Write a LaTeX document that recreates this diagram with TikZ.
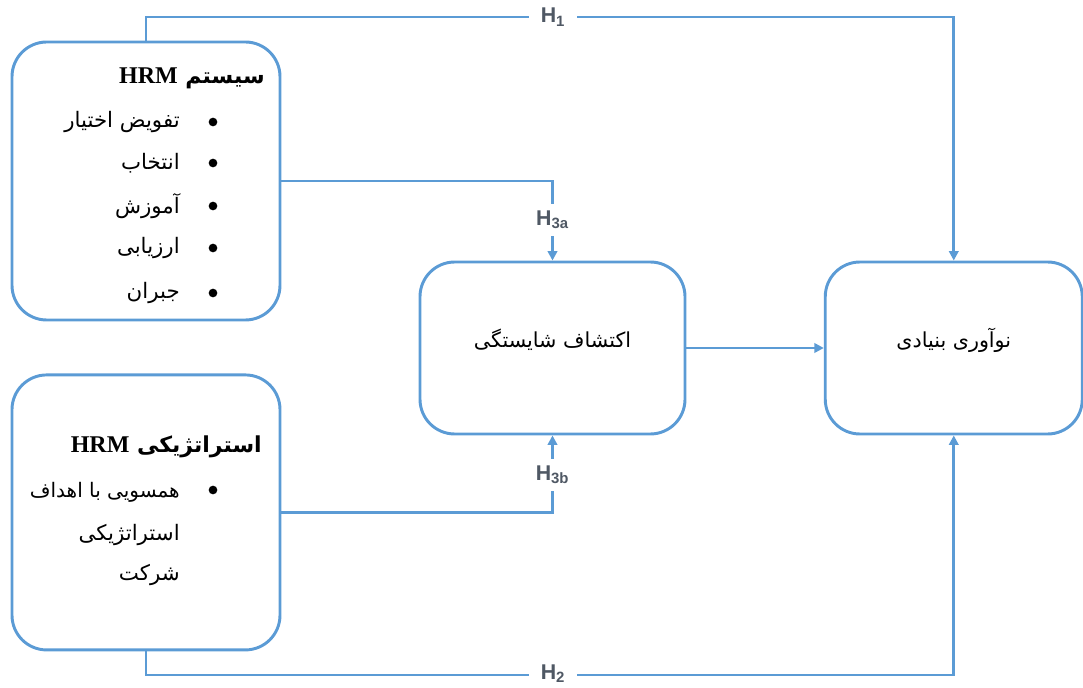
\documentclass[tikz,border=0pt]{standalone}
\usepackage{fontspec}
\setmainfont{Liberation Serif}
\newfontfamily\arabicfont[Script=Arabic]{DejaVu Sans}
\newfontfamily\hfont{Liberation Sans}
\TeXXeTstate=1
\usetikzlibrary{positioning,arrows.meta}
\definecolor{lineblue}{HTML}{5B9BD5}
\definecolor{labelgray}{HTML}{4F5864}
\newcommand{\fa}[1]{{\arabicfont\beginR #1\endR}}
\tikzstyle{box}=[rectangle,rounded corners=26pt,draw=lineblue,line width=2.2pt]
\tikzstyle{boxtext}=[inner sep=0pt,font=\fontsize{15.5}{18}\selectfont]
\tikzstyle{link}=[draw=lineblue,line width=2.2pt]
\tikzstyle{hyp}=[fill=white,text=labelgray,inner xsep=9pt,inner ysep=2pt,
font=\hfont\bfseries\fontsize{16}{18}\selectfont]
\tikzstyle{boxtitle}=[anchor=east,inner sep=0pt,font=\fontsize{16.5}{19}\selectfont\bfseries]
\tikzstyle{item}=[anchor=east,inner sep=0pt,font=\fontsize{16}{19}\selectfont]
\tikzstyle{bulletdot}=[circle,fill=black,inner sep=0pt,minimum size=6.5pt]

\begin{document}
\begin{tikzpicture}[x=0.75pt,y=-0.75pt,>={Triangle[length=7pt,width=7pt]}]
            \useasboundingbox (0,0) rectangle (1083,688);

            % BOXES

            \node[box,minimum width=201pt,minimum height=208.5pt] (hrm) at (146,181) {};
            \node[box,minimum width=201pt,minimum height=206.25pt,below=39pt of hrm] (shrm) {};
            \node[box,minimum width=198.75pt,minimum height=129pt] (comp) at (552.5,348) {};
            \node[box,minimum width=192.75pt,minimum height=129pt,right=103pt of comp] (innov) {};

            \node[boxtext,yshift=6pt] (compt) at (comp.center) {\fa{اکتشاف شایستگی}};
            \node[boxtext,yshift=6pt] (innovt) at (innov.center) {\fa{نوآوری بنیادی}};

            % HRM SYSTEM

            \node[boxtitle] (hrmt) at (265,78) {\fa{سیستم \beginL{\rmfamily\fontsize{18}{20}\selectfont HRM}\endL}};
            \foreach \txt/\y [count=\i] in {تفویض اختیار/122,انتخاب/163,آموزش/206,ارزیابی/248,جبران/293}{
                \node[bulletdot] (hb\i) at (213,\y) {};
                \node[item] (hi\i) at (180,\y) {\fa{\txt}};
            }

            % STRATEGIC HRM

            \node[boxtitle] (shrmt) at (262,447) {\fa{استراتژیکی \beginL{\rmfamily\fontsize{18}{20}\selectfont HRM}\endL}};
            \node[bulletdot] (sb1) at (213,490) {};
            \node[item,font=\fontsize{15}{18}\selectfont] (si1) at (180,492) {\fa{همسویی با اهداف}};
            \node[item] (si2) at (180,535) {\fa{استراتژیکی}};
            \node[item] (si3) at (180,575) {\fa{شرکت}};

            % HYPOTHESES

            \coordinate (h1) at (553,17);
            \coordinate (h2) at (553,675);
            \coordinate (h3a) at (552.5,220);
            \coordinate (h3b) at (552.5,475);

            \draw[link,->] (hrm.north) |- (h1) -| (innov.north);
            \draw[link,->] (shrm.south) |- (h2) -| (innov.south);
            \draw[link,->] (hrm.east) -| (comp.north);
            \draw[link,->] (shrm.east) -| (comp.south);
            \draw[link,->] (comp) -- (innov);

            \node[hyp] at (h1) {H\textsubscript{1}};
            \node[hyp,yshift=1pt] at (h2) {H\textsubscript{2}};
            \node[hyp,inner ysep=5pt] at (h3a) {H\textsubscript{3a}};
            \node[hyp,inner ysep=5pt] at (h3b) {H\textsubscript{3b}};

\end{tikzpicture}
\end{document}
